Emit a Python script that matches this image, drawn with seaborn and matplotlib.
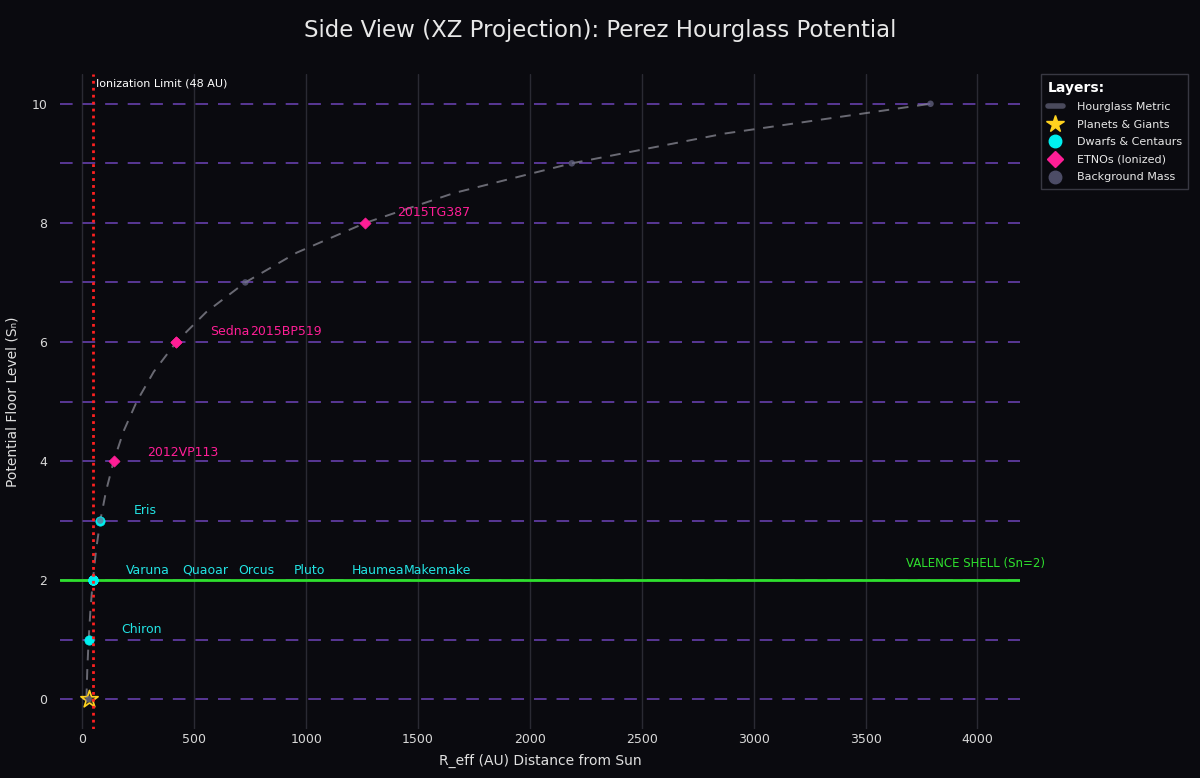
import matplotlib
matplotlib.use("Agg")
import matplotlib.pyplot as plt
from matplotlib.lines import Line2D
import seaborn as sns
import pandas as pd

# ---- data ----
metric_S = [0, 0.5, 1, 1.5, 2, 2.5, 3, 3.5, 4, 4.5, 5, 5.5, 6, 6.5, 7, 7.5, 8, 8.5, 9, 9.5, 10]
metric_R = [18, 22, 28, 36, 47, 61, 80, 106, 140, 184, 243, 319, 420, 553, 728, 958, 1265, 1660, 2187, 2870, 3790]

planet_R = [28]
planet_S = [0]

dwarf_names = ["Chiron", "Eris", "Varuna", "Quaoar", "Orcus", "Pluto", "Haumea", "Makemake"]
dwarf_R = [28, 80, 47, 47, 47, 47, 47, 47]
dwarf_S = [1, 3, 2, 2, 2, 2, 2, 2]

etno_names = ["2012VP113", "Sedna", "2015BP519", "2015TG387"]
etno_R = [140, 420, 420, 1265]
etno_S = [4, 6, 6, 8]

bg_R = [28, 80, 728, 2187, 3790]
bg_S = [0, 3, 7, 9, 10]

floor_levels = list(range(0, 11))
x_ticks = [0, 500, 1000, 1500, 2000, 2500, 3000, 3500, 4000]
y_ticks = [0, 2, 4, 6, 8, 10]
ionization_limit = 48
valence_level = 2

# label offsets (pixels) — styling only
dwarf_offsets = [(53, 10), (45, 10), (55, 10), (112, 10), (163, 10), (217, 10), (285, 10), (345, 10)]
etno_offsets = [(69, 9), (53, 10), (110, 10), (68, 10)]

# ---- style ----
BG = "#0a0a0f"
sns.set_theme(style="dark")
plt.rcParams["font.family"] = ["DejaVu Sans"]
plt.rcParams["figure.facecolor"] = BG
plt.rcParams["axes.facecolor"] = BG

fig = plt.figure(figsize=(12, 7.78), dpi=100)
ax = fig.add_axes([60 / 1200, (778 - 729) / 778, 960 / 1200, (729 - 74) / 778])
ax.set_facecolor(BG)

xmin, xmax = -100, 4190
ymin, ymax = -0.5, 10.5
ax.set_xlim(xmin, xmax)
ax.set_ylim(ymin, ymax)

# vertical grid
for xt in x_ticks:
    ax.axvline(xt, color="#2a2a33", lw=1, zorder=0)

# floor levels
for lv in floor_levels:
    ax.axhline(lv, color="#7448c4", lw=1.3, alpha=0.8, dashes=(7, 5.5), zorder=1)

# metric curve
metric_df = pd.DataFrame({"R": metric_R, "S": metric_S})
sns.lineplot(data=metric_df, x="R", y="S", ax=ax, sort=False, color="#8a8a95",
             lw=1.4, alpha=0.75, linestyle=(0, (5.5, 4.5)), zorder=2, legend=False)

# valence shell line
ax.axhline(valence_level, color="#2ee02e", lw=2, zorder=3)
ax.annotate("VALENCE SHELL (Sn=2)", xy=(xmax, valence_level), xytext=(25, 17),
            textcoords="offset pixels", ha="right", va="center",
            color="#2ee02e", fontsize=8.5, zorder=6, annotation_clip=False)

# ionization limit
ax.axvline(ionization_limit, color="#ff2020", lw=2, linestyle=(0, (1, 1.5)), zorder=5)
ax.annotate("Ionization Limit (48 AU)", xy=(ionization_limit, ymax), xytext=(3, -9),
            textcoords="offset pixels", ha="left", va="center",
            color="#ffffff", fontsize=8, zorder=6)

# markers
sns.scatterplot(x=dwarf_R, y=dwarf_S, ax=ax, marker="o", s=45, color="#00f0f0",
                edgecolor="#00f0f0", linewidth=0.5, zorder=4, legend=False)
sns.scatterplot(x=etno_R, y=etno_S, ax=ax, marker="D", s=32, color="#ff1e96",
                edgecolor="#ff1e96", linewidth=0.5, zorder=4, legend=False)
sns.scatterplot(x=planet_R, y=planet_S, ax=ax, marker="*", s=170, color="#3a3520",
                edgecolor="#ffd21f", linewidth=1.2, zorder=4, legend=False)
sns.scatterplot(x=bg_R, y=bg_S, ax=ax, marker="o", s=22, color="#6a6a8a",
                edgecolor="none", alpha=0.7, zorder=5, legend=False)

# labels
for name, r, s, off in zip(dwarf_names, dwarf_R, dwarf_S, dwarf_offsets):
    ax.annotate(name, xy=(r, s), xytext=off, textcoords="offset pixels",
                ha="center", va="center", color="#22e3e3", fontsize=9, zorder=6)
for name, r, s, off in zip(etno_names, etno_R, etno_S, etno_offsets):
    ax.annotate(name, xy=(r, s), xytext=off, textcoords="offset pixels",
                ha="center", va="center", color="#ff1e96", fontsize=9, zorder=6)

# axes formatting
ax.set_xticks(x_ticks)
ax.set_yticks(y_ticks)
ax.tick_params(axis="both", length=0, colors="#d8d8d8", labelsize=9)
ax.tick_params(axis="x", pad=3)
ax.tick_params(axis="y", pad=9)
ax.grid(False)
for sp in ax.spines.values():
    sp.set_visible(False)

ax.set_xlabel("R_eff (AU) Distance from Sun", color="#e0e0e0", fontsize=10)
ax.set_ylabel("Potential Floor Level (Sₙ)", color="#e0e0e0", fontsize=10)
ax.xaxis.set_label_coords(0.5, (729 - 754) / 655)
ax.yaxis.set_label_coords((20 - 60) / 960, 0.5)

fig.text(0.5, 1 - 30 / 778, "Side View (XZ Projection): Perez Hourglass Potential",
         ha="center", va="center", color="#e8e8e8", fontsize=16.5)

# legend
handles = [
    Line2D([0], [0], color="#4a4a5c", lw=4),
    Line2D([0], [0], marker="*", color="none", markerfacecolor="#ffd21f",
           markeredgecolor="#ffd21f", markersize=13),
    Line2D([0], [0], marker="o", color="none", markerfacecolor="#00f0f0",
           markeredgecolor="#00f0f0", markersize=9),
    Line2D([0], [0], marker="D", color="none", markerfacecolor="#ff1e96",
           markeredgecolor="#ff1e96", markersize=8),
    Line2D([0], [0], marker="o", color="none", markerfacecolor="#4c4c66",
           markeredgecolor="#4c4c66", markersize=9),
]
labels = ["Hourglass Metric", "Planets & Giants", "Dwarfs & Centaurs",
          "ETNOs (Ionized)", "Background Mass"]
leg = fig.legend(handles, labels, title="Layers:", loc="upper left",
                 bbox_to_anchor=(1041 / 1200, 1 - 74 / 778), borderaxespad=0,
                 frameon=True, fontsize=8, title_fontsize=10, handlelength=1.4,
                 handletextpad=1.2, labelspacing=0.68, borderpad=0.6,
                 fancybox=False, labelcolor="#e8e8e8")
leg.get_title().set_color("#ffffff")
leg.get_title().set_fontweight("bold")
leg._legend_box.align = "left"
leg.get_frame().set_facecolor("#0a0a0f")
leg.get_frame().set_edgecolor("#444450")
leg.get_frame().set_linewidth(1)

fig.savefig("out.png", dpi=100, facecolor=BG)
